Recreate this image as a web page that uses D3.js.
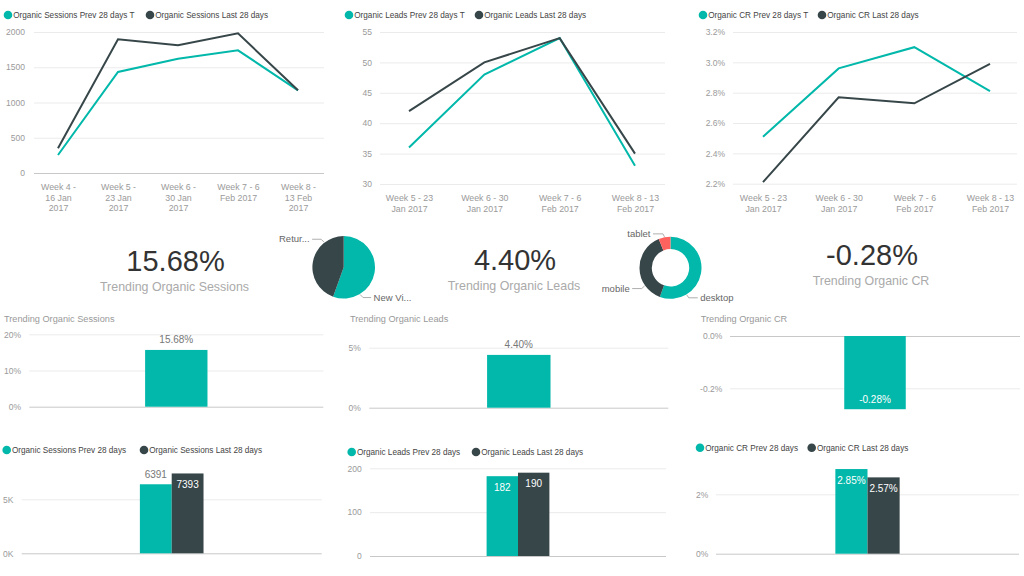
<!DOCTYPE html>
<html><head><meta charset="utf-8">
<script src="https://cdn.jsdelivr.net/npm/d3@7"></script>
<style>
body{margin:0;background:#fff;}
svg{display:block;font-family:"Liberation Sans",Arial,sans-serif;}
</style>
</head><body>
<svg id="c" width="1024" height="576"></svg>
<script>
// ---------- DATA ----------
const sessionWeeks = ["Week 4 - 16 Jan 2017","Week 5 - 23 Jan 2017","Week 6 - 30 Jan 2017","Week 7 - 6 Feb 2017","Week 8 - 13 Feb 2017"];
const sessionWeekLabels = [["Week 4 -","16 Jan","2017"],["Week 5 -","23 Jan","2017"],["Week 6 -","30 Jan","2017"],["Week 7 - 6","Feb 2017"],["Week 8 -","13 Feb","2017"]];
const sessionsPrev = [255, 1433, 1621, 1740, 1173];
const sessionsLast = [350, 1896, 1811, 1981, 1173];
const sessionTicks = [0, 500, 1000, 1500, 2000];

const leadWeeks = ["Week 5 - 23 Jan 2017","Week 6 - 30 Jan 2017","Week 7 - 6 Feb 2017","Week 8 - 13 Feb 2017"];
const leadWeekLabels = [["Week 5 - 23","Jan 2017"],["Week 6 - 30","Jan 2017"],["Week 7 - 6","Feb 2017"],["Week 8 - 13","Feb 2017"]];
const leadsPrev = [36, 48, 54, 33];
const leadsLast = [42, 50, 54, 35];
const leadTicks = [30, 35, 40, 45, 50, 55];

const crPrev = [2.51, 2.96, 3.10, 2.81];
const crLast = [2.21, 2.77, 2.73, 2.99];
const crTicks = [2.2, 2.4, 2.6, 2.8, 3.0, 3.2];

const kpiNames = ["Trending Organic Sessions","Trending Organic Leads","Trending Organic CR"];
const kpiValues = [15.68, 4.40, -0.28];

const visitorTypes = ["New Visitor","Returning Visitor"];
const visitorShare = [55.5, 44.5];
const visitorLabels = ["New Vi...","Retur..."];

const devices = ["desktop","mobile","tablet"];
const deviceShare = [55.6, 38.2, 6.2];

const trendTicks = [[0,10,20],[0,5],[-0.2,0]];

const totalSeries = [["Organic Sessions Prev 28 days","Organic Sessions Last 28 days"],
                     ["Organic Leads Prev 28 days","Organic Leads Last 28 days"],
                     ["Organic CR Prev 28 days","Organic CR Last 28 days"]];
const sessionTotals = [6391, 7393];
const leadTotals = [182, 190];
const crTotals = [2.85, 2.57];
const totalTicks = [[0,5000],[0,100,200],[0,2]];

// ---------- STYLE ----------
const TEAL="#01B8AA", DARK="#374649", RED="#FD625E";
const GRID="#ebebeb", BASE="#c8c8c8", TICK="#9a9a9a";
const loc = d3.formatLocale({decimal:".", thousands:",", grouping:[3], currency:["$",""], minus:"-"});
const f1 = loc.format(".1f"), f2 = loc.format(".2f");
const svg = d3.select("#c");
svg.append("rect").attr("width",1024).attr("height",576).attr("fill","#fff");

function legend(y, items){
  const g = svg.append("g");
  items.forEach(it=>{
    g.append("circle").attr("cx",it.cx).attr("cy",y).attr("r",4.3).attr("fill",it.color);
    g.append("text").attr("x",it.cx+5.2).attr("y",y+3).attr("font-size",8.2).attr("fill","#444").text(it.name);
  });
}

function yAxis(y, gx0, gx1, ticks, fmt, tickX, baseVal){
  const g = svg.append("g").attr("transform",`translate(${gx0},0)`)
    .call(d3.axisLeft(y).tickValues(ticks).tickFormat(fmt).tickSize(-(gx1-gx0)).tickPadding(gx0-tickX));
  g.select(".domain").remove();
  g.selectAll(".tick line").attr("stroke",d=> (baseVal!==null && Math.abs(d-baseVal)<1e-9) ? BASE : GRID).attr("stroke-width",1);
  g.selectAll(".tick text").attr("fill",TICK).attr("font-size",8.5).attr("font-family","Liberation Sans, Arial, sans-serif");
  return g;
}

function lineChart(cfg){
  const x = d3.scalePoint().domain(cfg.cats).range(cfg.xRange);
  const y = d3.scaleLinear().domain(cfg.yDomain).range(cfg.yRange);
  yAxis(y, cfg.grid[0], cfg.grid[1], cfg.ticks, cfg.fmt, cfg.tickX, cfg.baseVal);
  const gx = svg.append("g").attr("transform",`translate(0,${cfg.xLabelY})`)
    .call(d3.axisBottom(x).tickSize(0).tickPadding(0));
  gx.select(".domain").remove();
  gx.selectAll(".tick text").each(function(d,i){
    const t = d3.select(this).text(null).attr("y",0).attr("dy",null)
      .attr("fill",TICK).attr("font-size",8.8).attr("font-family","Liberation Sans, Arial, sans-serif");
    cfg.labels[i].forEach((ln,j)=>t.append("tspan").attr("x",0).attr("y",j*10.6).text(ln));
  });
  const line = d3.line().x((d,i)=>x(cfg.cats[i])).y(d=>y(d));
  cfg.series.forEach(s=>{
    svg.append("path").datum(s.values).attr("d",line).attr("fill","none")
      .attr("stroke",s.color).attr("stroke-width",2).attr("stroke-linejoin","miter");
  });
  legend(cfg.legendY, cfg.series.map((s,i)=>({cx:cfg.legendX[i], color:s.color, name:s.name})));
}

lineChart({cats:sessionWeeks, labels:sessionWeekLabels, xRange:[58,298], yDomain:[0,2000], yRange:[173,32],
  grid:[34,324], ticks:sessionTicks, fmt:d=>d, tickX:25, baseVal:0, xLabelY:190,
  series:[{name:"Organic Sessions Prev 28 days T", values:sessionsPrev, color:TEAL},
          {name:"Organic Sessions Last 28 days", values:sessionsLast, color:DARK}],
  legendY:15, legendX:[8,150]});

lineChart({cats:leadWeeks, labels:leadWeekLabels, xRange:[409,635], yDomain:[30,55], yRange:[184,32],
  grid:[380,665], ticks:leadTicks, fmt:d=>d, tickX:372, baseVal:null, xLabelY:201,
  series:[{name:"Organic Leads Prev 28 days T", values:leadsPrev, color:TEAL},
          {name:"Organic Leads Last 28 days", values:leadsLast, color:DARK}],
  legendY:15, legendX:[349,479]});

lineChart({cats:leadWeeks, labels:leadWeekLabels, xRange:[763,990], yDomain:[2.2,3.2], yRange:[183.7,32],
  grid:[733,1017], ticks:crTicks, fmt:d=>f1(d)+"%", tickX:725, baseVal:null, xLabelY:201,
  series:[{name:"Organic CR Prev 28 days T", values:crPrev, color:TEAL},
          {name:"Organic CR Last 28 days", values:crLast, color:DARK}],
  legendY:15, legendX:[703,822]});

// ---------- KPI cards ----------
const kpiPos = [{x:175.5,y:271},{x:515,y:270},{x:872,y:265}];
kpiValues.forEach((v,i)=>{
  svg.append("text").attr("x",kpiPos[i].x).attr("y",kpiPos[i].y).attr("text-anchor","middle")
    .attr("font-size",29).attr("fill","#333").text(f2(v)+"%");
  svg.append("text").attr("x",kpiPos[i].x-1).attr("y",kpiPos[i].y+20).attr("text-anchor","middle")
    .attr("font-size",12.4).attr("fill","#aaa").text(kpiNames[i]);
});

// ---------- Pie & donut ----------
function pieChart(cfg){
  const arcs = d3.pie().sort(null).value(d=>d)(cfg.values);
  const arc = d3.arc().innerRadius(cfg.inner).outerRadius(cfg.outer);
  const g = svg.append("g").attr("transform",`translate(${cfg.cx},${cfg.cy})`);
  g.selectAll("path").data(arcs).join("path").attr("d",arc).attr("fill",(d,i)=>cfg.colors[i]);
  const pt = (deg,r)=>[Math.sin(deg*Math.PI/180)*r, -Math.cos(deg*Math.PI/180)*r];
  cfg.labels.forEach(l=>{
    const p0 = pt(l.ang, cfg.outer+0.5);
    const p1 = [p0[0]+l.elbow[0], p0[1]+l.elbow[1]];
    const p2 = [p1[0]+l.run, p1[1]];
    g.append("polyline").attr("points",[p0,p1,p2].map(p=>p.join(",")).join(" "))
      .attr("fill","none").attr("stroke","#999").attr("stroke-width",0.8);
    g.append("text").attr("x",p2[0]+(l.run<0?-2.5:2.5)).attr("y",p2[1]+3.2)
      .attr("text-anchor",l.run<0?"end":"start").attr("font-size",9.5).attr("fill","#666").text(l.text);
  });
}
pieChart({cx:343.7, cy:267.3, inner:0, outer:31.3, values:visitorShare, colors:[TEAL,DARK],
  labels:[{text:visitorLabels[1], ang:322, elbow:[-3,-3], run:-9},
          {text:visitorLabels[0], ang:149, elbow:[3,3], run:8}]});
pieChart({cx:670.5, cy:267.8, inner:18.7, outer:31, values:deviceShare, colors:[TEAL,DARK,RED],
  labels:[{text:devices[2], ang:349, elbow:[-1.5,-3], run:-10},
          {text:devices[1], ang:235, elbow:[-3,2.7], run:-9.5},
          {text:devices[0], ang:149, elbow:[2,3], run:9}]});

// ---------- Trend bars ----------
function barChart(cfg){
  const y = d3.scaleLinear().domain(cfg.yDomain).range(cfg.yRange);
  yAxis(y, cfg.grid[0], cfg.grid[1], cfg.ticks, cfg.fmt, cfg.tickX, 0);
  const xb = d3.scaleBand().domain([cfg.category]).range(cfg.grid).paddingInner(0.65).paddingOuter(0.65);
  const xs = d3.scaleBand().domain(cfg.series.map(s=>s.name)).range([0, xb.bandwidth()]);
  const g = svg.append("g").attr("transform",`translate(${xb(cfg.category)},0)`);
  cfg.series.forEach(s=>{
    const x0 = xs(s.name), w = xs.bandwidth();
    const top = y(Math.max(0,s.value)), bot = y(Math.min(0,s.value));
    g.append("rect").attr("x",x0).attr("y",top).attr("width",w).attr("height",bot-top).attr("fill",s.color);
    let ly, col;
    if (s.pos==="above"){ ly = top-6.5; col="#777"; }
    else if (s.pos==="insideBase"){ ly = bot-6.3; col="#fff"; }
    else { ly = top+14.7; col="#fff"; }
    g.append("text").attr("x",x0+w/2).attr("y",ly).attr("text-anchor","middle")
      .attr("font-size",10).attr("fill",col).text(cfg.labelFmt(s.value));
  });
  if (cfg.title) svg.append("text").attr("x",cfg.titleX).attr("y",cfg.titleY).attr("font-size",9.2).attr("fill","#999").text(cfg.title);
  if (cfg.legendX) legend(cfg.legendY, cfg.series.map((s,i)=>({cx:cfg.legendX[i], color:s.color, name:s.name})));
}
const pct2 = d=>f2(d)+"%";

barChart({category:kpiNames[0], title:kpiNames[0], titleX:4, titleY:322, yDomain:[0,20], yRange:[406.7,334.3],
  grid:[29.3,323.3], ticks:trendTicks[0], fmt:d=>d+"%", tickX:21, labelFmt:pct2,
  series:[{name:kpiNames[0], value:kpiValues[0], color:TEAL, pos:"above"}]});
barChart({category:kpiNames[1], title:kpiNames[1], titleX:350, titleY:322, yDomain:[0,5], yRange:[407.7,347.7],
  grid:[369.3,668.3], ticks:trendTicks[1], fmt:d=>d+"%", tickX:360.7, labelFmt:pct2,
  series:[{name:kpiNames[1], value:kpiValues[1], color:TEAL, pos:"above"}]});
barChart({category:kpiNames[2], title:kpiNames[2], titleX:700.7, titleY:322, yDomain:[-0.2,0], yRange:[388.3,336],
  grid:[730,1020], ticks:trendTicks[2], fmt:d=>f1(d)+"%", tickX:722.3, labelFmt:pct2,
  series:[{name:kpiNames[2], value:kpiValues[2], color:TEAL, pos:"insideBase"}]});

// ---------- Totals bars ----------
barChart({category:"Sessions", yDomain:[0,5000], yRange:[553.3,499.3], grid:[21.7,321.7], ticks:totalTicks[0],
  fmt:d=>(d/1000)+"K", tickX:13.3, labelFmt:d=>d, legendY:450, legendX:[6.7,144],
  series:[{name:totalSeries[0][0], value:sessionTotals[0], color:TEAL, pos:"above"},
          {name:totalSeries[0][1], value:sessionTotals[1], color:DARK, pos:"inside"}]});
barChart({category:"Leads", yDomain:[0,200], yRange:[556,468.3], grid:[370,666], ticks:totalTicks[1],
  fmt:d=>d, tickX:361.7, labelFmt:d=>d, legendY:452, legendX:[351.7,476],
  series:[{name:totalSeries[1][0], value:leadTotals[0], color:TEAL, pos:"inside"},
          {name:totalSeries[1][1], value:leadTotals[1], color:DARK, pos:"inside"}]});
barChart({category:"CR", yDomain:[0,2], yRange:[553.7,494.3], grid:[716,1019], ticks:totalTicks[2],
  fmt:d=>d+"%", tickX:708.3, labelFmt:pct2, legendY:447.7, legendX:[700,811.7],
  series:[{name:totalSeries[2][0], value:crTotals[0], color:TEAL, pos:"inside"},
          {name:totalSeries[2][1], value:crTotals[1], color:DARK, pos:"inside"}]});
</script>
</body></html>
